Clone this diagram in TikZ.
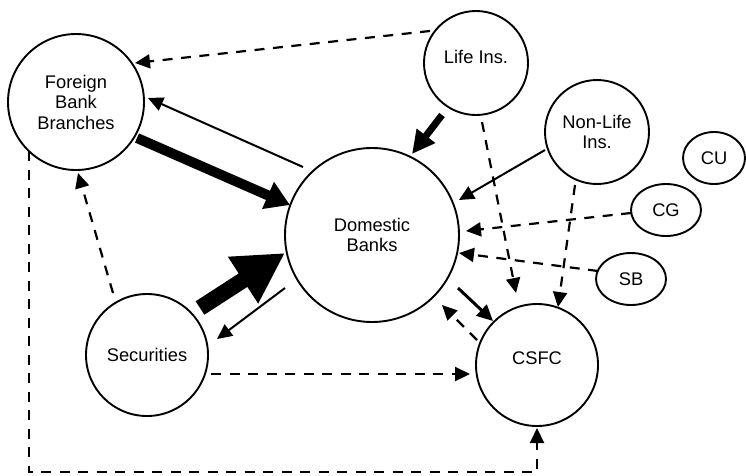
\documentclass[tikz,border=0pt]{standalone}
\usepackage{fontspec}
\setmainfont{Liberation Sans}
\usetikzlibrary{arrows.meta,shapes.geometric,calc}
\begin{document}
\begin{tikzpicture}[x=1pt,y=-1pt,
  every node/.style={font=\fontsize{18.3}{20.5}\selectfont},
  circ/.style={draw,circle,line width=1.9pt,inner sep=0pt,align=center},
  ell/.style={draw,ellipse,line width=1.9pt,inner sep=0pt},
  thinarrow/.style={line width=2pt,-{Triangle[length=15pt,width=14pt]}},
  dasharrow/.style={line width=2.2pt,dash pattern=on 10pt off 8.5pt,-{Triangle[length=15pt,width=14pt]}},
]
\useasboundingbox (0,0) rectangle (746,475);

\node[circ,minimum size=136pt] (fbb) at (76,102) {Foreign\\Bank\\Branches};
\node[circ,minimum size=104pt,label={[yshift=6pt]center:Life Ins.}] (li) at (476,63) {};
\node[circ,minimum size=104pt] (nl) at (597,132) {Non-Life\\Ins.};
\node[ell,minimum width=62pt,minimum height=52pt] (cu) at (714,158) {CU};
\node[ell,minimum width=70pt,minimum height=52pt] (cg) at (666,210) {CG};
\node[ell,minimum width=70pt,minimum height=52pt] (sb) at (631,279) {SB};
\node[circ,minimum size=174pt] (db) at (372,235) {Domestic\\Banks};
\node[circ,minimum size=122pt] (sec) at (147,355) {Securities};
\node[circ,minimum size=122pt,label={[yshift=7pt]center:CSFC}] (csfc) at (537,365) {};

\draw[dasharrow] ($(li)+(-46,-32)$) -- ($(fbb)+(59,-39)$);
\draw[thinarrow] ($(db)+(-69,-68)$) -- ($(fbb)+(72,-4)$);
\draw[line width=10pt,-{Triangle[length=24pt,width=28pt]}] ($(fbb)+(61,36)$) -- ($(db)+(-82,-30)$);
\draw[line width=7pt,-{Triangle[length=23pt,width=22pt]}] ($(li)+(-34,52)$) -- ($(db)+(40,-81)$);
\draw[thinarrow] ($(nl)+(-52,18)$) -- ($(db)+(87,-35)$);
\draw[dasharrow] ($(cg)+(-35,3)$) -- ($(db)+(94,-4)$);
\draw[dasharrow] ($(sb)+(-33,-8)$) -- ($(db)+(87,18)$);
\draw[dasharrow] ($(li)+(6,59)$) -- ($(csfc)+(-21,-72)$);
\draw[dasharrow] ($(nl)+(-22,53)$) -- ($(csfc)+(21,-58)$);
\draw[line width=3pt,-{Triangle[length=16pt,width=15pt]}] ($(db)+(86,53)$) -- ($(csfc)+(-44,-44)$);
\draw[dasharrow] ($(csfc)+(-60,-25)$) -- ($(db)+(70,70)$);
\draw[dasharrow] ($(sec)+(64,19)$) -- ($(csfc)+(-67,9)$);
\draw[line width=16pt,-{Triangle[length=50pt,width=52pt]}] ($(sec)+(53,-47)$) -- ($(db)+(-87,18)$);
\draw[thinarrow] ($(db)+(-87,53)$) -- ($(sec)+(70,-16)$);
\draw[dasharrow] ($(sec)+(-34,-62)$) -- ($(fbb)+(2,71)$);
\coordinate (c1) at (29,472);
\coordinate (c2) at (537,472);
\draw[dasharrow] ($(fbb)+(-47,49)$) -- (c1) -- (c2) -- ($(csfc)+(0,63)$);
\end{tikzpicture}
\end{document}
